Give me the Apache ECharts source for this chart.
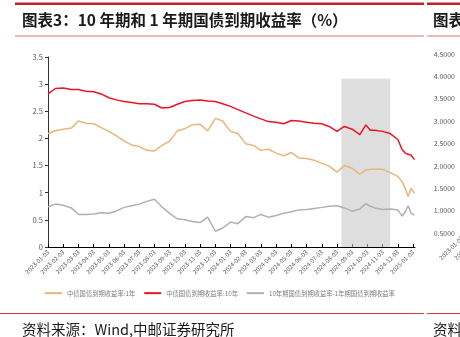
<!DOCTYPE html>
<html><head><meta charset="utf-8">
<script src="https://cdn.jsdelivr.net/npm/echarts@6/dist/echarts.min.js"></script>
<style>html,body{margin:0;padding:0;background:#fff}#c{width:460px;height:337px}</style>
</head><body><div id="c"></div>
<script>
const dates = ['2023-01-03','2023-01-18','2023-02-03','2023-02-18','2023-03-03','2023-03-18','2023-04-03','2023-04-18','2023-05-03','2023-05-18','2023-06-03','2023-06-18','2023-07-03','2023-07-18','2023-08-03','2023-08-18','2023-09-03','2023-09-18','2023-10-03','2023-10-18','2023-11-03','2023-11-18','2023-12-03','2023-12-18','2024-01-03','2024-01-18','2024-02-03','2024-02-18','2024-03-03','2024-03-18','2024-04-03','2024-04-18','2024-05-03','2024-05-18','2024-06-03','2024-06-18','2024-07-03','2024-07-18','2024-08-03','2024-08-18','2024-09-03','2024-09-18','2024-09-30','2024-10-09','2024-10-18','2024-11-03','2024-11-18','2024-12-03','2024-12-12','2024-12-18','2024-12-24','2024-12-30','2025-01-06'];
const y10 = [2.82,2.92,2.93,2.90,2.90,2.87,2.86,2.82,2.75,2.71,2.68,2.66,2.64,2.64,2.63,2.56,2.57,2.63,2.68,2.70,2.71,2.69,2.68,2.64,2.59,2.53,2.47,2.41,2.36,2.31,2.30,2.27,2.33,2.32,2.30,2.28,2.27,2.22,2.13,2.22,2.17,2.07,2.25,2.15,2.15,2.13,2.09,1.98,1.79,1.73,1.71,1.69,1.61];
const y1 = [2.09,2.14,2.17,2.19,2.32,2.28,2.27,2.20,2.13,2.05,1.95,1.88,1.85,1.78,1.77,1.87,1.95,2.14,2.18,2.25,2.26,2.14,2.37,2.32,2.13,2.09,1.90,1.87,1.78,1.80,1.73,1.68,1.74,1.64,1.63,1.60,1.54,1.49,1.38,1.50,1.45,1.34,1.42,1.43,1.43,1.43,1.37,1.30,1.20,1.08,0.93,1.08,0.99];
const spread = [0.74,0.79,0.77,0.72,0.60,0.60,0.61,0.63,0.62,0.66,0.73,0.76,0.79,0.84,0.88,0.74,0.62,0.52,0.50,0.47,0.45,0.55,0.29,0.35,0.46,0.43,0.56,0.54,0.60,0.55,0.58,0.62,0.65,0.68,0.69,0.71,0.73,0.75,0.76,0.72,0.66,0.70,0.80,0.75,0.72,0.69,0.70,0.68,0.57,0.65,0.76,0.62,0.59];
const tickDates = ['2023-01-03','2023-02-03','2023-03-03','2023-04-03','2023-05-03','2023-06-03','2023-07-03','2023-08-03','2023-09-03','2023-10-03','2023-11-03','2023-12-03','2024-01-03','2024-02-03','2024-03-03','2024-04-03','2024-05-03','2024-06-03','2024-07-03','2024-08-03','2024-09-03','2024-10-03','2024-11-03','2024-12-03','2025-01-03'];
const seriesNames = ['中债国债到期收益率:1年','中债国债到期收益率:10年','10年期国债到期收益率-1年期国债到期收益率'];
const shadeRange = ['2024-08-12','2024-11-18'];
const shadeTop = 3.1;

function m(d){
  const [Y,M,D] = d.split('-').map(Number);
  const dim = new Date(Y, M, 0).getDate();
  return (Y-2023)*12 + (M-1) + (D-3)/dim;
}
const tickVals = tickDates.map(m);
const labelMap = {};
tickDates.forEach(d => { labelMap[m(d).toFixed(4)] = d; });

const chart = echarts.init(document.getElementById('c'), null, {renderer:'canvas'});
const cjk = "'Noto Sans CJK SC', sans-serif";
const lbl = '#595959';
chart.setOption({
  backgroundColor:'#fff',
  animation:false,
  textStyle:{fontFamily:cjk},
  grid:[{left:48, top:57, width:367, height:190, containLabel:false, outerBoundsMode:'none'},
        {left:462, top:54, width:360, height:179, containLabel:false, outerBoundsMode:'none'}],
  legend:{data:seriesNames, left:45, top:290, icon:'rect', itemWidth:17, itemHeight:2, itemGap:9, padding:0,
    textStyle:{fontSize:6.3, color:'#7f7f7f', fontFamily:cjk}},
  xAxis:[{type:'value', gridIndex:0, min:0, max:m('2025-01-07'),
    axisLine:{lineStyle:{color:'#000', width:1}},
    axisTick:{customValues:tickVals, inside:true, length:3, lineStyle:{color:'#000'}},
    axisLabel:{customValues:tickVals, rotate:45, fontSize:6, color:lbl, margin:4,
      formatter:v => labelMap[v.toFixed(4)] || ''},
    splitLine:{show:false}},
   {type:'category', gridIndex:1, data:tickDates, boundaryGap:false,
    axisLine:{lineStyle:{color:'#000'}}, axisTick:{show:false},
    axisLabel:{rotate:45, fontSize:6, color:lbl, margin:4, interval:0}}],
  yAxis:[{type:'value', gridIndex:0, min:0, max:3.5, interval:0.5,
    axisLine:{show:true, lineStyle:{color:'#333'}},
    axisTick:{show:true, length:3, lineStyle:{color:'#333'}},
    axisLabel:{fontSize:7.5, color:lbl, margin:5},
    splitLine:{show:false}},
   {type:'value', gridIndex:1, min:0.5, max:4.5, interval:0.5,
    axisLine:{show:false}, axisTick:{show:false},
    axisLabel:{fontSize:7, color:lbl, margin:7, formatter:v => v.toFixed(4)},
    splitLine:{show:false}}],
  series:[
    {name:seriesNames[0], type:'line', symbol:'none', z:2, color:'#e6b67c',
      lineStyle:{width:1.5, color:'#e6b67c'}, data:dates.map((d,i)=>[m(d), y1[i]])},
    {name:seriesNames[1], type:'line', symbol:'none', z:2, color:'#ea1426',
      lineStyle:{width:1.5, color:'#ea1426'}, data:dates.map((d,i)=>[m(d), y10[i]])},
    {name:seriesNames[2], type:'line', symbol:'none', z:2, color:'#b0b0b0',
      lineStyle:{width:1.5, color:'#b0b0b0'}, data:dates.map((d,i)=>[m(d), spread[i]])},
    {name:'shade', type:'line', symbol:'none', z:10, data:[],
      markArea:{silent:true, itemStyle:{color:'rgba(200,200,200,0.6)'},
        data:[[{xAxis:m(shadeRange[0]), yAxis:0},{xAxis:m(shadeRange[1]), yAxis:shadeTop}]]}}
  ],
  graphic:[
    {type:'rect', shape:{x:15, y:2.5, width:409, height:2.5}, style:{fill:'#c8202a'}},
    {type:'rect', shape:{x:427, y:2.5, width:40, height:2.5}, style:{fill:'#c8202a'}},
    {type:'text', left:22, top:12, style:{text:'图表3：10 年期和 1 年期国债到期收益率（%）', fontSize:15.5, fontWeight:'bold', fill:'#1a1a1a', fontFamily:cjk}},
    {type:'text', left:433, top:12, style:{text:'图表', fontSize:15.5, fontWeight:'bold', fill:'#1a1a1a', fontFamily:cjk}},
    {type:'rect', shape:{x:15, y:35.5, width:409, height:1}, style:{fill:'#e07a7a'}},
    {type:'rect', shape:{x:427, y:35.5, width:40, height:1}, style:{fill:'#e07a7a'}},
    {type:'rect', shape:{x:0, y:313, width:424, height:1}, style:{fill:'#d04040'}},
    {type:'rect', shape:{x:427, y:313, width:40, height:1}, style:{fill:'#d04040'}},
    {type:'text', left:22, top:322, style:{text:'资料来源：Wind,中邮证券研究所', fontSize:14.5, fill:'#1a1a1a', fontFamily:cjk}},
    {type:'text', left:433, top:322, style:{text:'资料', fontSize:14.5, fill:'#1a1a1a', fontFamily:cjk}}
  ]
});
</script></body></html>
